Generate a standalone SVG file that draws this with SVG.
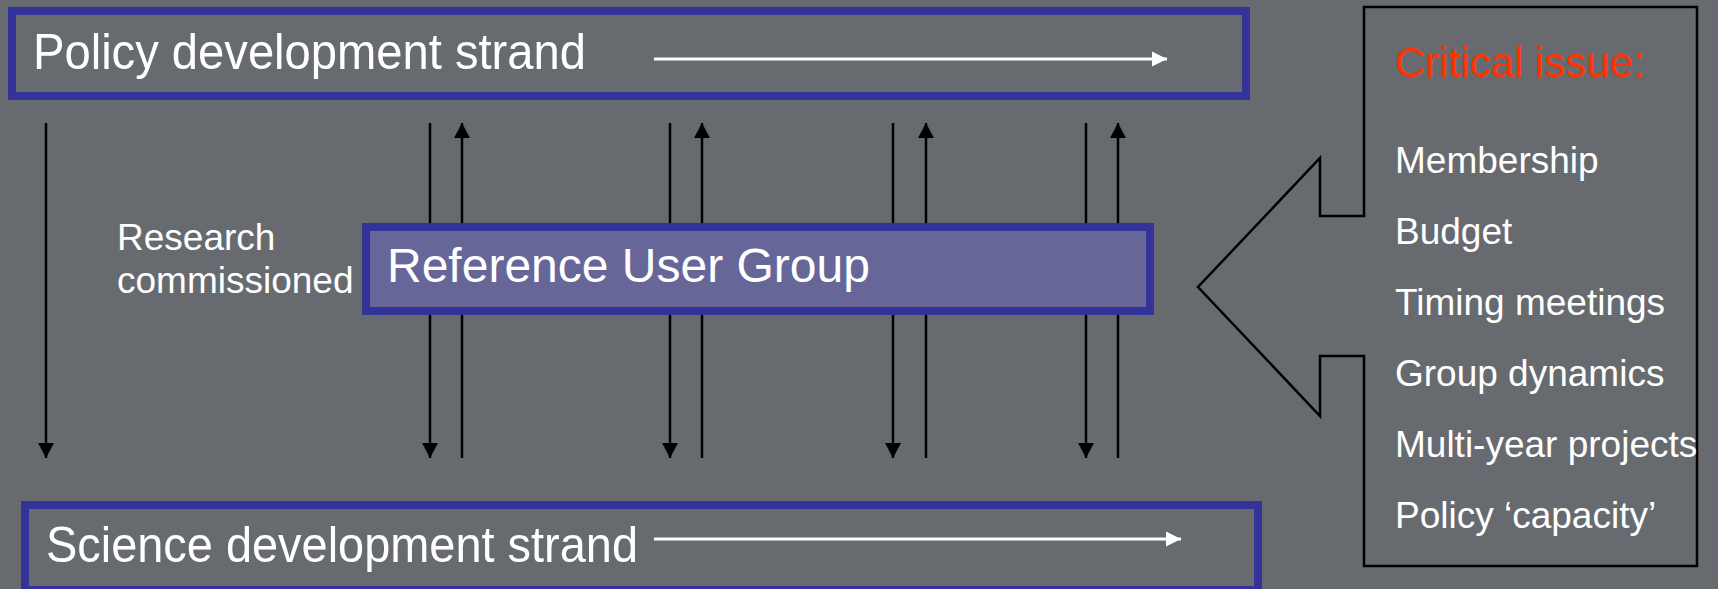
<svg xmlns="http://www.w3.org/2000/svg" width="1718" height="589" viewBox="0 0 1718 589">
<style>
.strand{fill:none;stroke:#333399;stroke-width:8}
.rug{fill:#666699;stroke:#333399;stroke-width:8}
.big{font-family:"Liberation Sans Narrow","Liberation Sans",Arial,sans-serif;font-size:50px;fill:#ffffff}
.rugt{font-family:"Liberation Sans",Arial,sans-serif;font-size:48px;fill:#ffffff}
.lbl{font-family:"Liberation Sans",Arial,sans-serif;font-size:37px;fill:#ffffff}
.crit{font-family:"Liberation Sans",Arial,sans-serif;font-size:42px;fill:#ff3300}
.conn{stroke:#000000;stroke-width:2.5;fill:none}
.flow{stroke:#ffffff;stroke-width:3;fill:none}
</style>
<defs>
<marker id="ah" markerUnits="userSpaceOnUse" markerWidth="16" markerHeight="16" viewBox="0 0 16 16" refX="15" refY="8" orient="auto">
<path d="M0,0 L15,8 L0,16 Z" fill="#000000"/>
</marker>
<marker id="wh" markerUnits="userSpaceOnUse" markerWidth="16" markerHeight="16" viewBox="0 0 16 16" refX="15" refY="8" orient="auto">
<path d="M0,0.5 L15,8 L0,15.5 Z" fill="#ffffff"/>
</marker>
</defs>
<rect x="0" y="0" width="1718" height="589" fill="#676b6f"/>

<g id="policy-strand">
<rect class="strand" x="12" y="11" width="1234" height="85"/>
<text class="big" x="33" y="69" textLength="553" lengthAdjust="spacingAndGlyphs">Policy development strand</text>
</g>

<g id="science-strand">
<rect class="strand" x="25" y="505" width="1233" height="85"/>
<text class="big" x="46" y="562" textLength="592" lengthAdjust="spacingAndGlyphs">Science development strand</text>
</g>

<g id="connectors">
<line class="flow" x1="654" y1="59" x2="1167" y2="59" marker-end="url(#wh)"/>
<line class="flow" x1="654" y1="539" x2="1181" y2="539" marker-end="url(#wh)"/>
<line class="conn" x1="46" y1="123" x2="46" y2="458" marker-end="url(#ah)"/>
<line class="conn" x1="430" y1="123" x2="430" y2="458" marker-end="url(#ah)"/>
<line class="conn" x1="462" y1="458" x2="462" y2="123" marker-end="url(#ah)"/>
<line class="conn" x1="670" y1="123" x2="670" y2="458" marker-end="url(#ah)"/>
<line class="conn" x1="702" y1="458" x2="702" y2="123" marker-end="url(#ah)"/>
<line class="conn" x1="893" y1="123" x2="893" y2="458" marker-end="url(#ah)"/>
<line class="conn" x1="926" y1="458" x2="926" y2="123" marker-end="url(#ah)"/>
<line class="conn" x1="1086" y1="123" x2="1086" y2="458" marker-end="url(#ah)"/>
<line class="conn" x1="1118" y1="458" x2="1118" y2="123" marker-end="url(#ah)"/>
</g>

<g id="research-label">
<text class="lbl" x="117" y="250">Research</text>
<text class="lbl" x="117" y="293">commissioned</text>
</g>

<g id="reference-user-group">
<rect class="rug" x="366" y="227" width="784" height="84"/>
<text class="rugt" x="387" y="282">Reference User Group</text>
</g>

<g id="critical-issue">
<path d="M1364,7 L1364,216 L1320,216 L1320,158 L1198,287 L1320,416 L1320,356 L1364,356 L1364,566 L1697,566 L1697,7 Z" fill="none" stroke="#000000" stroke-width="2.5"/>
<text class="crit" x="1395" y="77">Critical issue:</text>
<text class="lbl" x="1395" y="173">Membership</text>
<text class="lbl" x="1395" y="244">Budget</text>
<text class="lbl" x="1395" y="315">Timing meetings</text>
<text class="lbl" x="1395" y="386">Group dynamics</text>
<text class="lbl" x="1395" y="457">Multi-year projects</text>
<text class="lbl" x="1395" y="528">Policy ‘capacity’</text>
</g>
</svg>
